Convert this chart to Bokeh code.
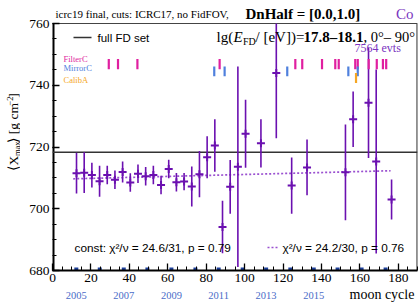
import numpy as np
from bokeh.plotting import figure
from bokeh.layouts import column, row
from bokeh.models import Label, LabelSet, FixedTicker, ColumnDataSource, Range1d
from bokeh.embed import file_html
from bokeh.resources import INLINE
from bokeh.core.properties import value

# ---------------- data ----------------
cycle = [12.5, 16.5, 20.5, 24.5, 28.5, 32.5, 36.5, 40.5, 44.5, 48.5, 52.5, 56.5,
         60.5, 64.5, 68.5, 72.5, 76.5, 80.5, 84.5, 88.5, 92.5, 96.5, 100.5, 108.5,
         116.5, 124.5, 132.5, 152.5, 156.5, 164.5, 168.5, 176.5]
xmax_mean = [711.5, 711.7, 710.9, 708.9, 710.9, 709.4, 711.9, 708.5, 711.3, 710.5, 710.9, 707.7,
             712.9, 708.6, 708.8, 707.2, 711.2, 716.7, 720.5, 694.1, 707.1, 713.6, 724.3, 721.2,
             744.0, 707.5, 713.4, 711.8, 729.0, 734.3, 715.3, 703.0]
xmax_err = [6.6, 6.6, 4.0, 5.0, 3.0, 3.0, 3.4, 3.0, 3.0, 3.0, 3.0, 3.0,
            3.0, 3.0, 2.8, 6.5, 7.5, 6.8, 8.5, 8.5, 8.7, 32.5, 11.0, 7.8,
            21.2, 9.1, 9.0, 15.5, 9.0, 17.9, 29.8, 6.5]

full_fd_mean = 718.3
fit_x = [10.8, 176.0]
fit_y = [709.7, 712.3]

filterc_x = [29.3, 34.1, 44.2, 87.0, 126.4, 130.0, 140.3, 147.2, 149.0, 157.6, 158.9,
             164.6, 168.8, 172.0, 173.7]
mirrorc_x = [84.2, 89.6, 122.2, 154.0, 158.9]
caliba_x = [158.0]

year_cycle = [12.4, 24.6, 37.1, 49.4, 61.9, 74.4, 86.5, 99.0, 111.2, 123.8, 136.0, 148.4, 160.9, 173.4]
year_label_cycle = [12.4, 37.1, 61.9, 86.5, 111.2, 136.0]
year_labels = ["2005", "2007", "2009", "2011", "2013", "2015"]

x_ticks = [0, 20, 40, 60, 80, 100, 120, 140, 160, 180]
y_ticks = [680, 700, 720, 740, 760]

# ---------------- layout (page pixels) ----------------
PW, PH = 419, 302
FL, FR, FT, FB = 52, 417, 23, 270      # edges of the drawn plot box
X0, X1, Y0, Y1 = 0, 190, 680, 760
LEFT_W = 20                             # y-title strip
MAIN_W = PW - LEFT_W
MAIN_H = 289
BOT_H = PH - MAIN_H

def X(px):
    return X0 + (px - FL) * (X1 - X0) / (FR - FL)

def Y(py):
    return Y1 - (py - FT) * (Y1 - Y0) / (FB - FT)

Y_TOP = Y(0)   # frame extends up to the page top so the title can live in it

SERIF = "Liberation Serif"
SANS = "Liberation Sans"
PURPLE = "#6b10b0"
LPURPLE = "#9a50d0"
TPURPLE = "#7b35c0"


def strip(w, h, xr, yr):
    f = figure(width=w, height=h, x_range=xr, y_range=yr, output_backend="svg",
               toolbar_location=None, x_axis_type=None, y_axis_type=None,
               min_border_left=0, min_border_right=0, min_border_top=0, min_border_bottom=0)
    f.outline_line_color = None
    f.background_fill_color = "white"
    f.border_fill_color = "white"
    return f


def label(fig, x, y, t, size, font=SERIF, style="normal", color="black", align="left", angle=0.0):
    # (x, y) is the vertical middle of the text line
    fig.add_layout(Label(x=x, y=y, text=t, text_font=font, text_font_size=size,
                         text_font_style=style, text_color=color, text_align=align,
                         text_baseline="middle", angle=angle))

# ---------------- main figure ----------------
fig = figure(width=MAIN_W, height=MAIN_H, x_range=Range1d(X0, X1), y_range=Range1d(Y0, Y_TOP),
             output_backend="svg", toolbar_location=None,
             min_border_left=FL - LEFT_W, min_border_right=PW - FR,
             min_border_top=0, min_border_bottom=MAIN_H - FB)
fig.xgrid.visible = False
fig.ygrid.visible = False
fig.outline_line_color = None
fig.background_fill_color = "white"
fig.border_fill_color = "white"

fig.xaxis.ticker = FixedTicker(ticks=x_ticks, minor_ticks=list(range(0, 191, 5)))
fig.yaxis.ticker = FixedTicker(ticks=y_ticks, minor_ticks=list(range(680, 761, 5)))
for ax in (fig.xaxis[0], fig.yaxis[0]):
    ax.axis_line_width = 2
    ax.axis_line_color = "black"
    ax.major_tick_in = 7
    ax.major_tick_out = 0
    ax.minor_tick_in = 4
    ax.minor_tick_out = 0
    ax.major_tick_line_color = "black"
    ax.minor_tick_line_color = "black"
    ax.major_tick_line_width = 1.3
    ax.major_label_text_font = SERIF
    ax.major_label_text_font_size = "13.5px"
    ax.major_label_text_color = "black"
    ax.major_label_standoff = 3
    ax.axis_label = None
fig.yaxis[0].axis_line_color = None

# plot box: left axis line, top and right edges
fig.line(x=[X0, X0], y=[Y0, Y1], line_color="black", line_width=4)
fig.line(x=[X0, X1], y=[Y1, Y1], line_color="#444444", line_width=1.2)
fig.line(x=[X1, X1], y=[Y0, Y1], line_color="#444444", line_width=2.2)

m = np.array(xmax_mean)
e = np.array(xmax_err)
# error bars are cut at the top edge of the plot box
src = ColumnDataSource(dict(x=cycle, y=xmax_mean, lo=list(m - e), hi=list(np.minimum(m + e, Y1))))

fig.line(x=[X0, X1], y=[full_fd_mean, full_fd_mean], line_color="#333333", line_width=1.5)
fig.line(x=fit_x, y=fit_y, line_color=LPURPLE, line_width=1.7, line_dash="2 2")

fig.segment(x0="x", y0="lo", x1="x", y1="hi", source=src, line_color=PURPLE, line_width=1.6)
fig.scatter(x="x", y="y", source=src, marker="cross", size=8, line_color=PURPLE, line_width=2)

fig.segment(x0=filterc_x, y0=[745.2] * len(filterc_x), x1=filterc_x, y1=[748.5] * len(filterc_x),
            line_color="#e01fa0", line_width=2.2)
fig.segment(x0=mirrorc_x, y0=[742.9] * len(mirrorc_x), x1=mirrorc_x, y1=[746.1] * len(mirrorc_x),
            line_color="#4f80dd", line_width=2.2)
fig.segment(x0=caliba_x, y0=[740.7] * len(caliba_x), x1=caliba_x, y1=[744.0] * len(caliba_x),
            line_color="#f5a623", line_width=2.2)

fig.rect(x=year_cycle, y=[Y0] * len(year_cycle), width=4, height=6,
         width_units="screen", height_units="screen", fill_color="#1c3f9a", line_color=None)

# legend of full FD set
fig.segment(x0=[X(73)], y0=[Y(37)], x1=[X(91)], y1=[Y(37)], line_color="#333333", line_width=1.6)
label(fig, X(97), Y(37), "full FD set", "11.5px", font=SANS)

# energy range text
label(fig, X(216), Y(36), "lg(", "15px")
label(fig, X(233), Y(36), "E", "15px", style="italic")
label(fig, X(242.5), Y(40.5), "FD", "10px")
label(fig, X(255), Y(36), "/ [eV])=", "15px")
label(fig, X(303), Y(36), "17.8\u201318.1", "15px", style="bold")
label(fig, X(363), Y(36), ", 0\u00b0\u2013 90\u00b0", "14.5px")
label(fig, X(354), Y(47), "7564 evts", "12px", color=TPURPLE)

label(fig, X(63), Y(58), "FilterC", "8.5px", color="#e01fa0")
label(fig, X(63), Y(67.5), "MirrorC", "8.5px", color="#4f80dd")
label(fig, X(63), Y(79.5), "CalibA", "8.5px", color="#f5a623")

label(fig, X(74), Y(247), "const: \u03c7\u00b2/\u03bd = 24.6/31, p = 0.79", "11.8px", font=SANS)
fig.segment(x0=[X(267)], y0=[Y(247)], x1=[X(279)], y1=[Y(247)], line_color=LPURPLE,
            line_width=1.6, line_dash="2 2")
label(fig, X(282), Y(247), "\u03c7\u00b2/\u03bd = 24.2/30, p = 0.76", "11.8px", font=SANS)

# title (above the plot box, inside the extended frame)
label(fig, X(55), Y(13.5), "icrc19 final, cuts: ICRC17, no FidFOV,", "11px")
label(fig, X(245), Y(13), "DnHalf = [0.0,1.0]", "15px", style="bold")
label(fig, X(413), Y(13), "Co", "15px", color=TPURPLE, align="right")

# ---------------- y-title strip ----------------
left = strip(LEFT_W, MAIN_H, Range1d(0, LEFT_W), Range1d(MAIN_H, 0))
A = np.pi / 2
cx = 12.5
label(left, cx, 182, "\u27e8X", "13.5px", angle=A)
label(left, cx + 3.5, 166.5, "max", "8.5px", angle=A)
label(left, cx, 152, "\u27e9 [g cm", "13.5px", angle=A)
label(left, cx - 3.5, 112.5, "\u22122", "8.5px", angle=A)
label(left, cx, 104, "]", "13.5px", angle=A)

# ---------------- bottom strip ----------------
bot = strip(PW, BOT_H, Range1d(X(0), X(PW)), Range1d(PH, PH - BOT_H))
ysrc = ColumnDataSource(dict(x=year_label_cycle, y=[294.5] * len(year_label_cycle), t=year_labels))
bot.add_layout(LabelSet(x="x", y="y", text="t", source=ysrc, text_align="center",
                        text_baseline="middle", text_font=value(SERIF),
                        text_font_size=value("10.5px"), text_color="#4a6cc8"))
label(bot, X(349), 293.8, "moon cycle", "14px")

p = column(row(left, fig), bot)
open("out.html", "w").write(file_html(p, INLINE))
